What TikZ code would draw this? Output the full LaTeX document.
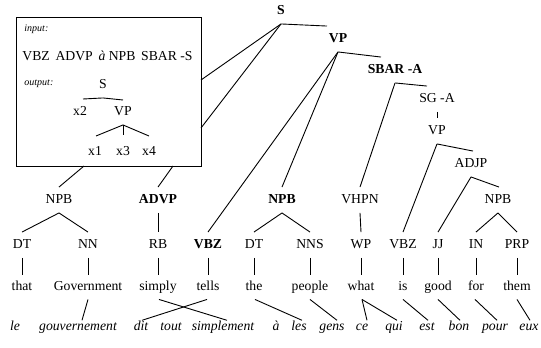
\documentclass[tikz,border=0pt]{standalone}
\usepackage{fontspec}
\setmainfont{Liberation Serif}
\begin{document}
\begin{tikzpicture}[x=1pt,y=-1pt,line width=0.9pt,
  t/.style={font=\fontsize{13.7}{16}\selectfont, inner xsep=1pt, inner ysep=0pt, text height=9.5pt, text depth=3pt, minimum height=25pt},
  tb/.style={t, font=\fontsize{13.7}{16}\selectfont\bfseries},
  w/.style={t, minimum height=24pt},
  fr/.style={t, font=\fontsize{13.7}{16}\selectfont\itshape, minimum height=0pt},
  small/.style={font=\fontsize{10}{12}\selectfont\itshape, inner sep=0pt, anchor=west},
  rulebox/.style={draw, inner sep=0pt, anchor=north west, minimum width=185pt, minimum height=149pt}]
\useasboundingbox (0,0) rectangle (541,348);

% rule box
\node[rulebox] (box) at (16,17) {};
\node[small] (inp) at (24,29) {input:};
\node[t, inner xsep=0pt] (rhs) at (107.5,57) {VBZ\, ADVP\, \textit{à} NPB\, SBAR -S};
\node[small] (outp) at (24,84) {output:};
\node[t] (S0) at (103,85) {S};
\node[t] (x2) at (80,112) {x2};
\node[t] (VP0) at (123,112) {VP};
\node[t] (x1) at (95,152) {x1};
\node[t] (x3) at (123,152) {x3};
\node[t] (x4) at (149,152) {x4};
\coordinate (s0l) at (83,99);
\coordinate (s0r) at (123,100);
\coordinate (v0l) at (96,136);
\coordinate (v0m) at (123,135);
\coordinate (v0r) at (149,136);
\draw (s0l) -- (S0.south) -- (s0r);
\draw (v0l) -- (VP0.south) -- (v0r);
\draw (VP0.south) -- (v0m);

% upper tree
\node[tb] (S) at (281,11) {S};
\node[tb] (VP) at (338,39) {VP};
\node[tb] (SBAR) at (395,70) {SBAR -A};
\node[t] (SG) at (437,99) {SG -A};
\node[t] (VPb) at (437,131) {VP};
\node[t] (ADJP) at (471,164) {ADJP};

\node[t] (NPBl) at (59,200) {NPB};
\node[tb] (ADVP) at (158,200) {ADVP};
\node[tb] (NPBm) at (282,200) {NPB};
\node[t] (VHPN) at (360,200) {VHPN};
\node[t] (NPBr) at (498,200) {NPB};

% preterminals
\node[t] (DTa) at (22,245) {DT};
\node[t] (NN) at (88,245) {NN};
\node[t] (RB) at (158,245) {RB};
\node[tb] (VBZa) at (208,245) {VBZ};
\node[t] (DTb) at (254,245) {DT};
\node[t] (NNS) at (310,245) {NNS};
\node[t] (WP) at (361,245) {WP};
\node[t] (VBZb) at (403,245) {VBZ};
\node[t] (JJ) at (438,245) {JJ};
\node[t] (IN) at (476,245) {IN};
\node[t] (PRP) at (517,245) {PRP};

% words
\node[w] (that) at (22,287) {that};
\node[w] (gov) at (88,287) {Government};
\node[w] (simply) at (158,287) {simply};
\node[w] (tells) at (208,287) {tells};
\node[w] (the) at (254,287) {the};
\node[w] (people) at (310,287) {people};
\node[w] (what) at (361,287) {what};
\node[w] (is) at (403,287) {is};
\node[w] (good) at (438,287) {good};
\node[w] (for) at (476,287) {for};
\node[w] (them) at (517,287) {them};

% french
\node[fr] (le) at (15,327) {le};
\node[fr] (gouv) at (78,327) {gouvernement};
\node[fr] (dit) at (141,327) {dit};
\node[fr] (tout) at (171,327) {tout};
\node[fr] (simpl) at (223,327) {simplement};
\node[fr] (a) at (276,327) {à};
\node[fr] (les) at (299,327) {les};
\node[fr] (gens) at (332,327) {gens};
\node[fr] (ce) at (362,327) {ce};
\node[fr] (qui) at (394,327) {qui};
\node[fr] (est) at (427,327) {est};
\node[fr] (bon) at (459,327) {bon};
\node[fr] (pour) at (495,327) {pour};
\node[fr] (eux) at (529,327) {eux};

% box connections
\coordinate (b1) at (201,80);
\coordinate (b2) at (201,128);
\coordinate (b3) at (84,166);
\coordinate (b4) at (173,166);
\draw (S.south) -- (b1);
\draw (S.south) -- (b2);
\draw (b3) -- (NPBl.north);
\draw (b4) -- (ADVP.north);

% tree edges
\draw (S.south) -- ([xshift=-11pt]VP.north);
\draw (VP.south) -- ([xshift=-14pt]SBAR.north);
\draw (VP.south) -- (NPBm.north);
\draw (VP.south) -- (VBZa.north);
\draw (SBAR.south) -- ([xshift=-10pt]SG.north);
\draw (SBAR.south) -- (VHPN.north);
\draw (SG.south) -- (VPb.north);
\draw (VPb.south) -- ([xshift=2pt]ADJP.north);
\draw (VPb.south) -- (VBZb.north);
\draw (ADJP.south) -- ([xshift=1pt]NPBr.north);
\draw (ADJP.south) -- (JJ.north);
\draw (NPBr.south) -- (IN.north);
\draw (NPBr.south) -- (PRP.north);
\draw (NPBl.south) -- (DTa.north);
\draw (NPBl.south) -- (NN.north);
\draw (ADVP.south) -- (RB.north);
\draw (NPBm.south) -- (DTb.north);
\draw (NPBm.south) -- (NNS.north);
\draw (VHPN.south) -- (WP.north);

\foreach \p/\q in {DTa/that,NN/gov,RB/simply,VBZa/tells,DTb/the,NNS/people,WP/what,VBZb/is,JJ/good,IN/for,PRP/them}
  \draw (\p.south) -- (\q.north);

% alignments
\draw (gov.south) -- ([xshift=4pt]gouv.north);
\draw ([xshift=1pt]simply.south) -- ([xshift=4pt]simpl.north);
\draw ([xshift=-1pt]tells.south) -- ([xshift=1pt]dit.north);
\draw ([xshift=1pt]the.south) -- ([xshift=3pt]les.north);
\draw (people.south) -- ([xshift=5pt]gens.north);
\draw ([xshift=1pt]what.south) -- ([xshift=5pt]ce.north);
\draw ([xshift=1pt]what.south) -- ([xshift=3pt]qui.north);
\draw (is.south) -- ([xshift=1pt]est.north);
\draw (good.south) -- ([xshift=1pt]bon.north);
\draw ([xshift=-1pt]for.south) -- ([xshift=2pt]pour.north);
\draw (them.south) -- ([xshift=1pt]eux.north);
\end{tikzpicture}
\end{document}
